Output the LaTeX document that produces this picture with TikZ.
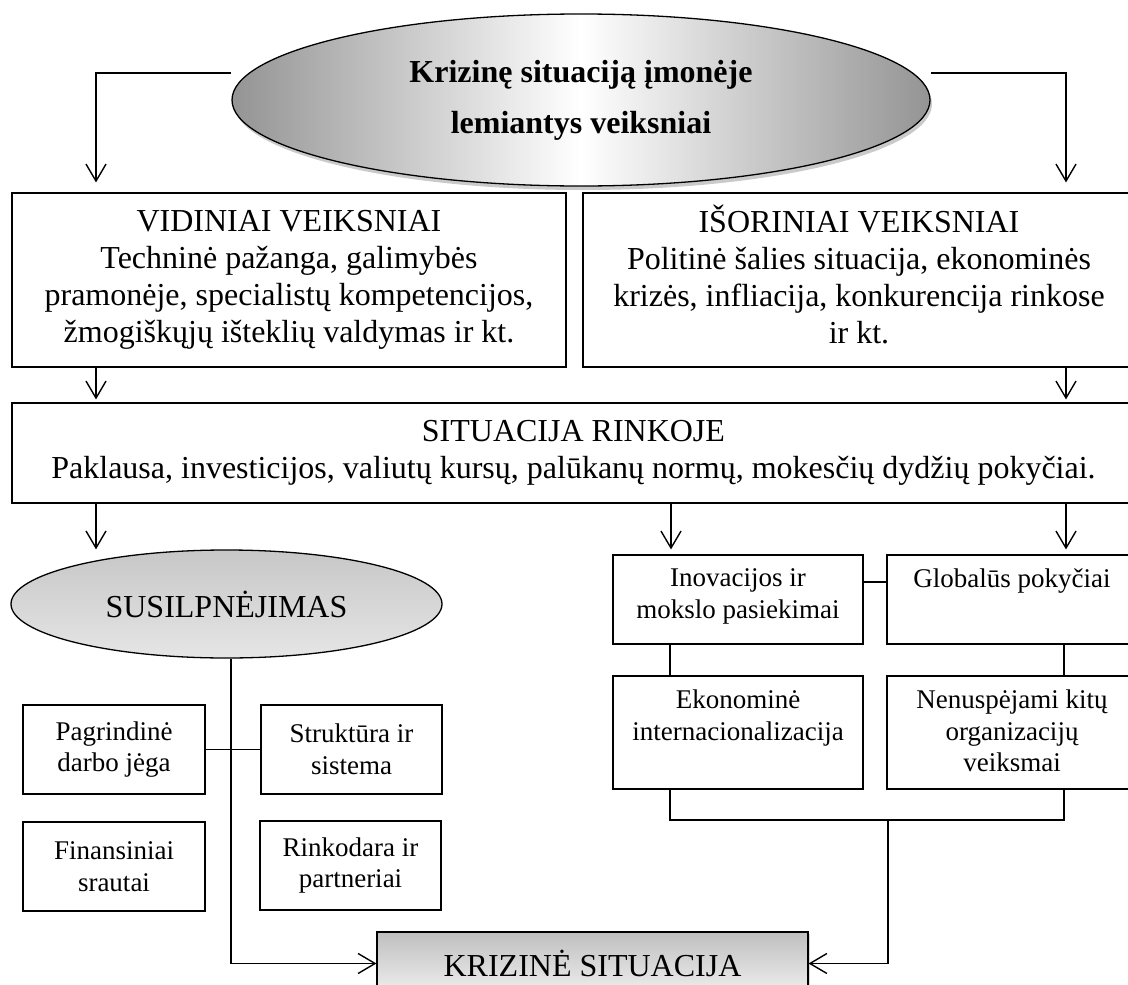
\documentclass[tikz,border=0pt]{standalone}
\usepackage{fontspec}
\setmainfont{Liberation Serif}
\usetikzlibrary{arrows.meta,shapes.geometric,shadows}
\newcommand\topbox[3]{\begin{minipage}[c][#1][t]{#2}\vspace*{14pt}\centering #3\end{minipage}}
\begin{document}
\begin{tikzpicture}[x=1pt,y=-1pt,
  bx/.style={draw, line width=1.1pt, inner sep=0pt, align=center, font=\fontsize{32}{37}\selectfont},
  sbx/.style={draw, line width=1.1pt, inner sep=0pt, align=center, font=\fontsize{27}{31.5}\selectfont},
  con/.style={line width=1.4pt},
  arr/.style={con, -{Straight Barb[length=17pt,width=20pt]}},
]
\useasboundingbox (0,0) rectangle (1128,985);
\clip (0,0) rectangle (1128,985);

% top ellipse
\node[ellipse, draw, line width=1.3pt, minimum width=698pt, minimum height=172pt, inner sep=0pt,
  left color=black!42, right color=black!42, middle color=white,
  drop shadow={shadow xshift=2pt, shadow yshift=-4pt, opacity=0.35, fill=black!60},
  align=center, font=\bfseries\fontsize{32}{51}\selectfont] (top) at (581,100)
  {Krizinę situaciją įmonėje\\lemiantys veiksniai};

% main boxes
\node[bx, minimum width=554pt, minimum height=174pt] (vid) at (289,280)
  {\strut VIDINIAI VEIKSNIAI\\Techninė pažanga, galimybės\\pramonėje, specialistų kompetencijos,\\žmogiškųjų išteklių valdymas ir kt.\strut};
\node[bx, minimum width=552pt, minimum height=174pt] (isr) at (859,280)
  {\strut IŠORINIAI VEIKSNIAI\\Politinė šalies situacija, ekonominės\\krizės, infliacija, konkurencija rinkose\\ir kt.\strut};
\node[bx, minimum width=1123pt, minimum height=100pt] (sr) at (573.5,453)
  {\strut SITUACIJA RINKOJE\\Paklausa, investicijos, valiutų kursų, palūkanų normų, mokesčių dydžių pokyčiai.\strut};

% weakening ellipse
\node[ellipse, draw, line width=1.3pt, minimum width=431pt, minimum height=108pt, inner sep=0pt,
  top color=black!22, bottom color=black!10,
  font=\fontsize{32}{37}\selectfont] (sus) at (226.5,604) {SUSILPNĖJIMAS};

% left small boxes
\node[sbx, minimum width=182pt, minimum height=89pt] (pag) at (114,749.5) {Pagrindinė\\darbo jėga};
\node[sbx, minimum width=181pt, minimum height=89pt] (str) at (351.5,749.5) {Struktūra ir\\sistema};
\node[sbx, minimum width=182pt, minimum height=89pt] (fin) at (114,866.5) {Finansiniai\\srautai};
\node[sbx, minimum width=181pt, minimum height=89pt] (rin) at (350.5,865.5) {Rinkodara ir\\partneriai};

% right small boxes
\node[sbx, minimum width=250pt, minimum height=89pt] (ino) at (738,599.5)
  {\topbox{89pt}{246pt}{Inovacijos ir\\mokslo pasiekimai}};
\node[sbx, minimum width=250pt, minimum height=89pt] (glo) at (1012,599.5)
  {\topbox{89pt}{246pt}{Globalūs pokyčiai}};
\node[sbx, minimum width=250pt, minimum height=113pt] (eko) at (738,732.5)
  {\topbox{113pt}{246pt}{Ekonominė\\internacionalizacija}};
\node[sbx, minimum width=250pt, minimum height=113pt] (nen) at (1012,732.5)
  {\topbox{113pt}{246pt}{Nenuspėjami kitų\\organizacijų\\veiksmai}};

% crisis box
\node[draw, line width=1.1pt, minimum width=431pt, minimum height=63pt, inner sep=0pt,
  top color=black!25, bottom color=black!6,
  drop shadow={shadow xshift=2pt, shadow yshift=-2pt, opacity=0.3, fill=black!50},
  font=\fontsize{32}{37}\selectfont] (kriz) at (592.5,963.5) {KRIZINĖ SITUACIJA};

% helper coordinates
\coordinate (tl) at (231,73);
\coordinate (tr) at (931,73);
\coordinate (cL) at (96,73);
\coordinate (cR) at (1066,73);
\coordinate (cM) at (671,0);
\coordinate (cA) at (670,0);
\coordinate (cB) at (1064,0);
\coordinate (cS) at (231,0);
\coordinate (bm) at (888,820);

% connectors
\draw[arr, shorten >=10pt] (tl) -- (cL) -- (cL |- vid.north);
\draw[arr, shorten >=10pt] (tr) -- (cR) -- (cR |- isr.north);
\draw[arr, shorten >=3pt] (cL |- vid.south) -- (cL |- sr.north);
\draw[arr, shorten >=3pt] (cR |- isr.south) -- (cR |- sr.north);
\draw[arr] (cL |- sr.south) -- (cL |- sus.north);
\draw[arr, shorten >=5pt] (cM |- sr.south) -- (cM |- ino.north);
\draw[arr, shorten >=5pt] (cR |- sr.south) -- (cR |- glo.north);

\draw[con] ([yshift=17.5pt]ino.east) -- ([yshift=17.5pt]glo.west);
\draw[con] (cA |- ino.south) -- (cA |- eko.north);
\draw[con] (cB |- glo.south) -- (cB |- nen.north);
\draw[con] (cA |- eko.south) -- (cA |- bm) -- (cB |- bm) -- (cB |- nen.south);
\draw[arr] (bm) |- (kriz.east);

\draw[arr] (cS |- sus.south) |- (kriz.west);
\draw[con] (pag.east) -- (str.west);
\end{tikzpicture}
\end{document}
